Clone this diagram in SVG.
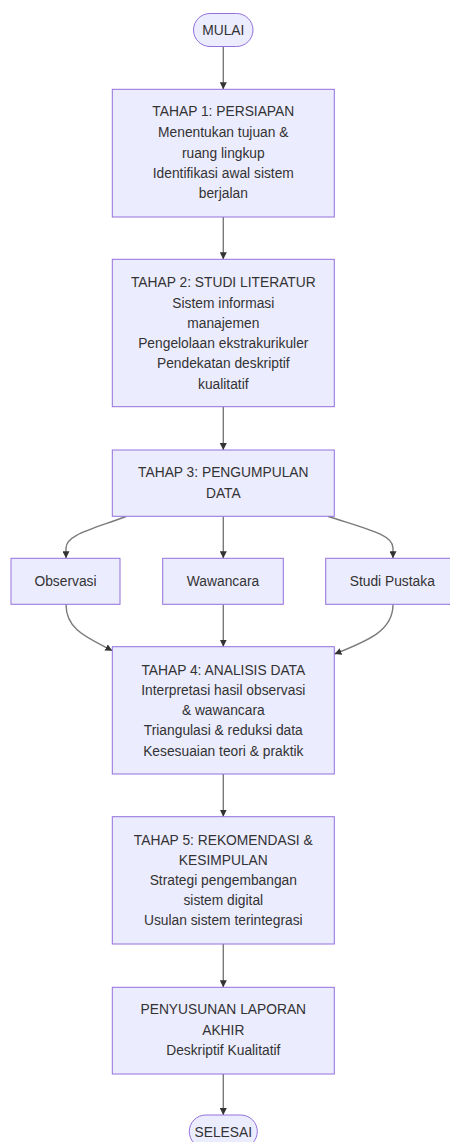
<svg xmlns="http://www.w3.org/2000/svg" width="450" height="1142" viewBox="0 0 450 1142">
<style>
.node rect{fill:#ECECFF;stroke:#9370DB;stroke-width:1}
.node text{font-family:"Liberation Sans",Arial,sans-serif;font-size:13.8px;fill:#333;text-anchor:middle;dominant-baseline:central}
.edge{fill:none;stroke:#7a7a7a;stroke-width:1.4;marker-end:url(#arrow)}
</style>
<defs>
<marker id="arrow" viewBox="0 0 10 10" refX="10" refY="5" markerUnits="userSpaceOnUse" markerWidth="7" markerHeight="7" orient="auto">
<path d="M0,0 L10,5 L0,10 z" fill="#333"/>
</marker>
</defs>
<rect width="450" height="1142" fill="#fff"/>
<g id="edges">
<path class="edge" d="M223.3,46.7 L223.3,89.3"/>
<path class="edge" d="M223.3,217 L223.3,259.3"/>
<path class="edge" d="M223.3,406.7 L223.3,450"/>
<path class="edge" d="M126,516.5 C90,530 66,535 66,548 L66,558.3"/>
<path class="edge" d="M223.3,516.5 L223.3,558.3"/>
<path class="edge" d="M328.3,516.5 C370,530 393,535 393,548 L393,558.3"/>
<path class="edge" d="M66,604.5 C66,630 88,638 112.3,650.7"/>
<path class="edge" d="M223.3,604.5 L223.3,646.7"/>
<path class="edge" d="M393,604.5 C393,630 370,640 334.5,654"/>
<path class="edge" d="M223.3,774 L223.3,816.7"/>
<path class="edge" d="M223.3,944 L223.3,987.3"/>
<path class="edge" d="M223.3,1074 L223.3,1115"/>
</g>
<g id="mulai" class="node">
<rect x="193.5" y="13.5" width="59.5" height="33" rx="16.5" ry="16.5"/>
<text x="223.3" y="30.5">MULAI</text>
</g>
<g id="tahap1" class="node">
<rect x="112.3" y="89.3" width="222" height="127.7"/>
<text x="223.3" y="111.7">TAHAP 1: PERSIAPAN</text>
<text x="223.3" y="132.5">Menentukan tujuan &amp;</text>
<text x="223.3" y="153">ruang lingkup</text>
<text x="223.3" y="173.3">Identifikasi awal sistem</text>
<text x="223.3" y="193.5">berjalan</text>
</g>
<g id="tahap2" class="node">
<rect x="112.3" y="259.3" width="222" height="147.4"/>
<text x="223.3" y="282.7">TAHAP 2: STUDI LITERATUR</text>
<text x="223.3" y="303">Sistem informasi</text>
<text x="223.3" y="323.3">manajemen</text>
<text x="223.3" y="343.5">Pengelolaan ekstrakurikuler</text>
<text x="223.3" y="363.7">Pendekatan deskriptif</text>
<text x="223.3" y="384">kualitatif</text>
</g>
<g id="tahap3" class="node">
<rect x="112.3" y="450" width="222" height="66.3"/>
<text x="223.3" y="472.5">TAHAP 3: PENGUMPULAN</text>
<text x="223.3" y="493">DATA</text>
</g>
<g id="observasi" class="node">
<rect x="11" y="558.3" width="109" height="46"/>
<text x="65.5" y="581">Observasi</text>
</g>
<g id="wawancara" class="node">
<rect x="162.7" y="558.3" width="120.6" height="46"/>
<text x="223" y="581">Wawancara</text>
</g>
<g id="pustaka" class="node">
<rect x="325.7" y="558.3" width="133" height="46"/>
<text x="392.3" y="581">Studi Pustaka</text>
</g>
<g id="tahap4" class="node">
<rect x="112.3" y="646.7" width="222" height="127.3"/>
<text x="223.3" y="670">TAHAP 4: ANALISIS DATA</text>
<text x="223.3" y="690.5">Interpretasi hasil observasi</text>
<text x="223.3" y="710.5">&amp; wawancara</text>
<text x="223.3" y="730.5">Triangulasi &amp; reduksi data</text>
<text x="223.3" y="751">Kesesuaian teori &amp; praktik</text>
</g>
<g id="tahap5" class="node">
<rect x="112.3" y="816.7" width="222" height="127.3"/>
<text x="223.3" y="840">TAHAP 5: REKOMENDASI &amp;</text>
<text x="223.3" y="860.3">KESIMPULAN</text>
<text x="223.3" y="880.3">Strategi pengembangan</text>
<text x="223.3" y="900.5">sistem digital</text>
<text x="223.3" y="920.7">Usulan sistem terintegrasi</text>
</g>
<g id="laporan" class="node">
<rect x="112.3" y="987.3" width="222" height="86.7"/>
<text x="223.3" y="1009.5">PENYUSUNAN LAPORAN</text>
<text x="223.3" y="1030">AKHIR</text>
<text x="223.3" y="1050.3">Deskriptif Kualitatif</text>
</g>
<g id="selesai" class="node">
<rect x="189.3" y="1115" width="68" height="33" rx="16.5" ry="16.5"/>
<text x="223.3" y="1132">SELESAI</text>
</g>
</svg>
